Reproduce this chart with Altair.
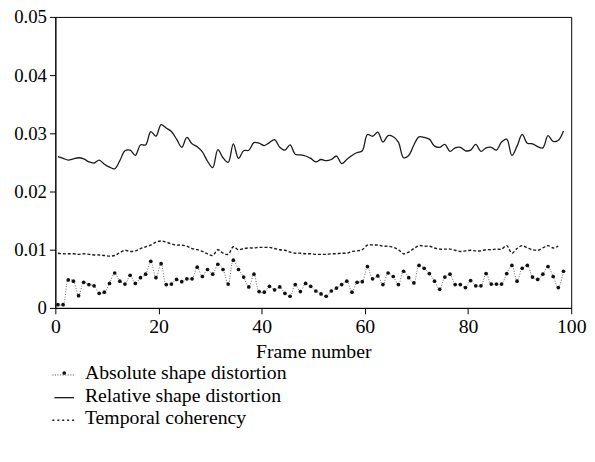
import altair as alt
import pandas as pd

# frame positions (index + 0.5)
frames = [i + 0.5 for i in range(99)]

absolute = [
    0.00056, 0.00056, 0.0048, 0.0046, 0.0021, 0.0044, 0.0040, 0.0038, 0.0025, 0.0027,
    0.0042, 0.0060, 0.0046, 0.0041, 0.0056, 0.0042, 0.0052, 0.0058, 0.0080, 0.0052,
    0.0076, 0.0040, 0.0041, 0.0049, 0.0045, 0.0050, 0.0050, 0.0070, 0.0054, 0.0066,
    0.0058, 0.0075, 0.0066, 0.0041, 0.0082, 0.0066, 0.0053, 0.0036, 0.0058, 0.0028,
    0.0027, 0.0037, 0.0031, 0.0036, 0.0025, 0.0020, 0.0040, 0.0028, 0.0042, 0.0037,
    0.0029, 0.0024, 0.0020, 0.0029, 0.0034, 0.0040, 0.0046, 0.0027, 0.0044, 0.0045,
    0.0071, 0.0050, 0.0055, 0.0040, 0.0060, 0.0054, 0.0040, 0.0063, 0.0052, 0.0043,
    0.0073, 0.0068, 0.0059, 0.0046, 0.0032, 0.0053, 0.0058, 0.0040, 0.0040, 0.0035,
    0.0047, 0.0038, 0.0038, 0.0059, 0.0041, 0.0041, 0.0041, 0.0059, 0.0073, 0.0046,
    0.0068, 0.0073, 0.0053, 0.0049, 0.0058, 0.0071, 0.0054, 0.0035, 0.0063,
]

relative = [
    0.0260, 0.0257, 0.0254, 0.0256, 0.0258, 0.0256, 0.0251, 0.0249, 0.0254, 0.0247,
    0.0242, 0.0239, 0.0253, 0.0270, 0.0271, 0.0262, 0.0280, 0.0280, 0.0303, 0.0295,
    0.0315, 0.0309, 0.0303, 0.0290, 0.0276, 0.0293, 0.0282, 0.0277, 0.0268, 0.0252,
    0.0241, 0.0272, 0.0258, 0.0250, 0.0282, 0.0257, 0.0270, 0.0271, 0.0284, 0.0283,
    0.0279, 0.0284, 0.0289, 0.0276, 0.0271, 0.0280, 0.0264, 0.0263, 0.0261, 0.0257,
    0.0251, 0.0255, 0.0253, 0.0255, 0.0261, 0.0248, 0.0255, 0.0262, 0.0267, 0.0270,
    0.0298, 0.0295, 0.0302, 0.0285, 0.0296, 0.0294, 0.0285, 0.0258, 0.0262, 0.0280,
    0.0294, 0.0293, 0.0290, 0.0278, 0.0276, 0.0281, 0.0269, 0.0275, 0.0276, 0.0270,
    0.0271, 0.0281, 0.0269, 0.0275, 0.0276, 0.0271, 0.0285, 0.0290, 0.0262, 0.0278,
    0.0298, 0.0283, 0.0282, 0.0277, 0.0275, 0.0296, 0.0286, 0.0288, 0.0304,
]

temporal = [
    0.0094, 0.0093, 0.0093, 0.0093, 0.0092, 0.0093, 0.0092, 0.0091, 0.0091, 0.0090,
    0.0089, 0.0090, 0.0095, 0.0099, 0.0097, 0.0098, 0.0102, 0.0105, 0.0108, 0.0113,
    0.0115, 0.0113, 0.0110, 0.0108, 0.0108, 0.0106, 0.0102, 0.0100, 0.0097, 0.0093,
    0.0090, 0.0100, 0.0094, 0.0092, 0.0105, 0.0100, 0.0102, 0.0103, 0.0103, 0.0104,
    0.0104, 0.0104, 0.0102, 0.0100, 0.0099, 0.0096, 0.0094, 0.0094, 0.0093, 0.0093,
    0.0092, 0.0092, 0.0092, 0.0093, 0.0093, 0.0094, 0.0094, 0.0097, 0.0098, 0.0100,
    0.0108, 0.0108, 0.0108, 0.0106, 0.0106, 0.0104, 0.0100, 0.0093, 0.0096, 0.0102,
    0.0107, 0.0106, 0.0106, 0.0103, 0.0101, 0.0101, 0.0101, 0.0099, 0.0097, 0.0098,
    0.0099, 0.0098, 0.0098, 0.0100, 0.0100, 0.0101, 0.0101, 0.0107, 0.0094, 0.0102,
    0.0107, 0.0103, 0.0100, 0.0099, 0.0103, 0.0107, 0.0103, 0.0106, None,
]

legend_labels = ["Absolute shape distortion", "Relative shape distortion", "Temporal coherency"]

FONT = "Liberation Serif, Times New Roman, serif"
FS = 20

df = pd.DataFrame({"frame": frames, "absolute": absolute, "relative": relative, "temporal": temporal})

xenc = alt.X("frame:Q", scale=alt.Scale(domain=[0, 100], nice=False), title="Frame number",
             axis=alt.Axis(values=[0, 20, 40, 60, 80, 100], grid=False, tickSize=6, labelFlush=False,
                           labelPadding=3, titlePadding=5, format="d"))
yaxis = alt.Axis(values=[0, 0.01, 0.02, 0.03, 0.04, 0.05], grid=False, tickSize=6, labelPadding=3,
                 labelFlush=False, labelFontSize=19,
                 labelExpr="datum.value == 0 ? '0' : format(datum.value, '.2f')")
yscale = alt.Scale(domain=[0, 0.05], nice=False)

base = alt.Chart(df)

rel_line = base.mark_line(color="#1a1a1a", strokeWidth=1.3, interpolate="catmull-rom").encode(
    x=xenc, y=alt.Y("relative:Q", scale=yscale, axis=yaxis, title=None))
tmp_line = base.transform_filter("datum.temporal != null").mark_line(
    color="#1a1a1a", strokeWidth=1.4, strokeDash=[3, 2], interpolate="catmull-rom").encode(
    x="frame:Q", y="temporal:Q")
abs_line = base.mark_line(color="#555555", strokeWidth=0.9, strokeDash=[1, 1.6], interpolate="catmull-rom").encode(
    x="frame:Q", y="absolute:Q")
abs_pts = base.mark_circle(color="#111111", size=14, opacity=1).encode(x="frame:Q", y="absolute:Q")

# legend (below the plot), positions in pixels relative to the plot's top-left corner
leg_df = pd.DataFrame({"label": legend_labels, "row": [0, 1, 2]})
ROW_Y = [361, 384, 407]


def leg_text(i):
    return alt.Chart(leg_df).transform_filter(f"datum.row == {i}").mark_text(
        align="left", baseline="middle", font=FONT, fontSize=FS, color="black").encode(
        text="label:N", x=alt.value(30), y=alt.value(ROW_Y[i]))


leg_abs = alt.Chart(leg_df).transform_filter("datum.row == 0").mark_rule(
    color="#444444", strokeWidth=1, strokeDash=[1, 1.6]).encode(
    x=alt.value(-3), x2=alt.value(20), y=alt.value(ROW_Y[0] + 2))
leg_abs_dot = alt.Chart(leg_df).transform_filter("datum.row == 0").mark_circle(
    color="#111111", size=14, opacity=1).encode(x=alt.value(9), y=alt.value(ROW_Y[0]))
leg_rel = alt.Chart(leg_df).transform_filter("datum.row == 1").mark_rule(
    color="#1a1a1a", strokeWidth=1.3).encode(
    x=alt.value(-1), x2=alt.value(19), y=alt.value(ROW_Y[1] + 2))
leg_tmp = alt.Chart(leg_df).transform_filter("datum.row == 2").mark_rule(
    color="#1a1a1a", strokeWidth=1.5, strokeDash=[2, 3]).encode(
    x=alt.value(-3), x2=alt.value(20), y=alt.value(ROW_Y[2] + 2))

chart = alt.layer(rel_line, tmp_line, abs_line, abs_pts,
                  leg_abs, leg_abs_dot, leg_rel, leg_tmp,
                  leg_text(0), leg_text(1), leg_text(2)).properties(
    width=523, height=295,
    autosize=alt.AutoSizeParams(type="none"),
    padding={"left": 48, "top": 6, "right": 16, "bottom": 140},
    background="white",
).configure_view(stroke="black", strokeWidth=1).configure_axis(
    domainColor="black", tickColor="black", labelColor="black", titleColor="black",
    labelFont=FONT, titleFont=FONT, labelFontSize=FS, titleFontSize=FS, titleFontWeight="normal",
    domainWidth=1, tickWidth=1,
)

chart.save("out.html", embed_options={"renderer": "svg", "actions": False})
